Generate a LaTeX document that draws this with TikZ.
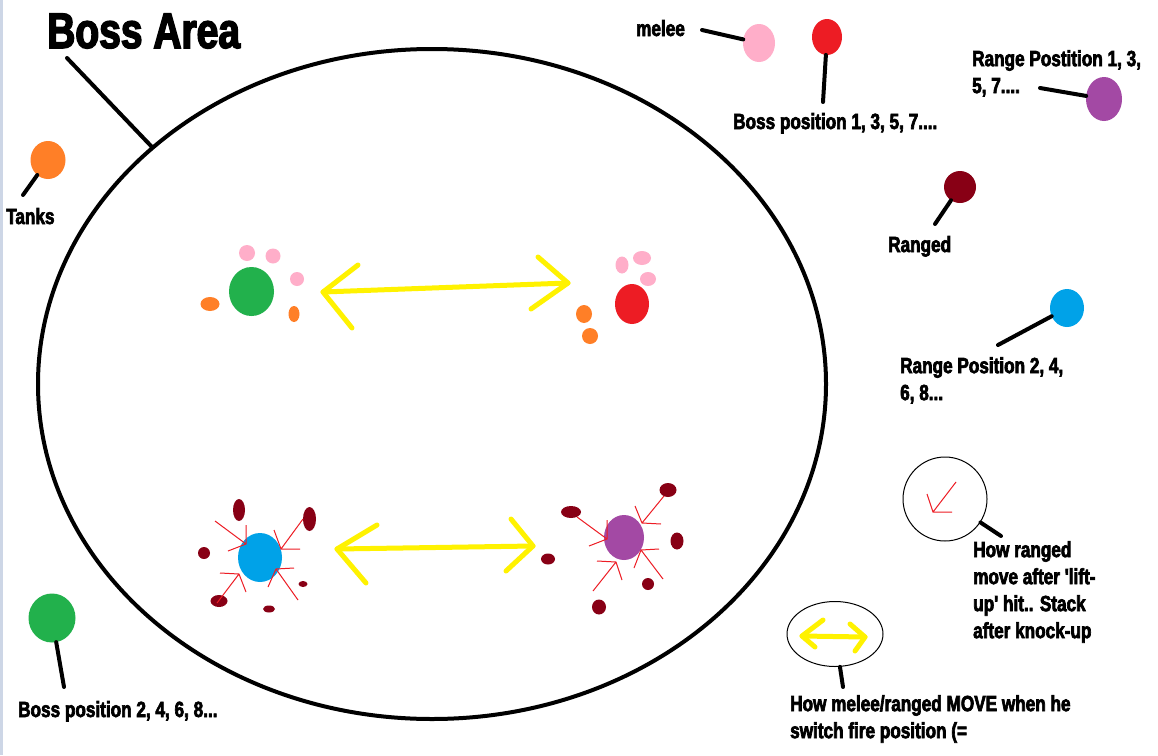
\documentclass[tikz,border=0pt]{standalone}
\usepackage{fontspec}
\setmainfont{Liberation Sans}[FakeStretch=0.78, Ligatures=TeXOff, BoldFont={Liberation Sans Bold}, BoldFeatures={FakeBold=3}]
\usetikzlibrary{shapes.geometric}
\definecolor{pgreen}{RGB}{34,177,76}
\definecolor{pblue}{RGB}{0,162,232}
\definecolor{ppurple}{RGB}{163,73,164}
\definecolor{pred}{RGB}{237,28,36}
\definecolor{pdark}{RGB}{136,0,21}
\definecolor{ppink}{RGB}{255,174,201}
\definecolor{porange}{RGB}{255,127,39}
\definecolor{pyellow}{RGB}{255,242,0}
\definecolor{pedge}{RGB}{205,214,230}
\begin{document}
\begin{tikzpicture}[x=1pt,y=-1pt,
  blob/.style n args={3}{ellipse, inner sep=0pt, outer sep=0pt, fill=#1, minimum width=#2, minimum height=#3},
  ring/.style 2 args={ellipse, draw=black, line width=1pt, inner sep=0pt, minimum width=#1, minimum height=#2},
  lead/.style={line width=4pt, black, line cap=round},
  lbl/.style={anchor=base west, inner sep=0pt, font=\fontsize{22}{27}\selectfont\bfseries, align=left},
  yarrow/.style={line width=5pt, color=pyellow, line cap=round, line join=round},
  rline/.style={line width=1pt, color=pred}]
\useasboundingbox (0,0) rectangle (1158,755);
\fill[white] (0,0) rectangle (1158,755);
\fill[pedge] (0,0) rectangle (2.5,755);

% arena
\node[draw, ellipse, line width=4pt, inner sep=0pt, minimum width=788pt, minimum height=670pt] (arena) at (432,384) {};
\node[anchor=base west, inner sep=0pt, font=\fontsize{50}{50}\selectfont\bfseries] (title) at (47,48) {Boss Area};
\coordinate (titleTail) at (67,58);
\coordinate (arenaHit) at (152,147);
\draw[lead] (titleTail) -- (arenaHit);

% top-left cluster
\node[blob={pgreen}{45pt}{49pt}] (bossA) at (251.5,291.5) {};
\node[blob={ppink}{16pt}{16pt}] (pa1) at (247,253) {};
\node[blob={ppink}{15pt}{15pt}] (pa2) at (273,256) {};
\node[blob={ppink}{14pt}{14pt}] (pa3) at (297,279) {};
\node[blob={porange}{19pt}{14pt}] (oa1) at (210,304) {};
\node[blob={porange}{11pt}{16pt}] (oa2) at (294,314) {};
\draw[yarrow] (323,292) -- (568,283);
\draw[yarrow] (358,265) -- (323,292) -- (352,328);
\draw[yarrow] (538,257) -- (568,283) -- (531,309);

% top-right cluster
\node[blob={pred}{34pt}{40pt}] (bossB) at (632,304) {};
\node[blob={ppink}{13pt}{17pt}] (pb1) at (622,265) {};
\node[blob={ppink}{18pt}{14pt}] (pb2) at (642,258) {};
\node[blob={ppink}{16pt}{14pt}] (pb3) at (648,279) {};
\node[blob={porange}{16pt}{18pt}] (ob1) at (584,314) {};
\node[blob={porange}{16pt}{16pt}] (ob2) at (590,336) {};

% bottom-left cluster
\node[blob={pblue}{44pt}{49pt}] (stackA) at (260,557.5) {};
\node[blob={pdark}{12pt}{22pt}] (da1) at (239,510) {};
\node[blob={pdark}{13pt}{24pt}] (da2) at (309.5,519) {};
\node[blob={pdark}{12pt}{12pt}] (da3) at (204,553) {};
\node[blob={pdark}{17pt}{12pt}] (da4) at (219,601) {};
\node[blob={pdark}{9pt}{6pt}] (da5) at (303,584) {};
\node[blob={pdark}{12pt}{7pt}] (da6) at (269,609) {};
\draw[rline] (215,521) -- (246,544) (246,525) -- (246,544) -- (228,551);
\draw[rline] (303,519) -- (281,549) (274,530) -- (281,549) -- (300,549);
\draw[rline] (217,603) -- (239,574) (220,573) -- (239,574) -- (246,592);
\draw[rline] (298,600) -- (276,569) (294,568) -- (276,569) -- (268,587);
\draw[yarrow] (337,549) -- (533,546);
\draw[yarrow] (377,525) -- (337,549) -- (366,583);
\draw[yarrow] (511,519) -- (533,546) -- (506,571);

% bottom-right cluster
\node[blob={ppurple}{40pt}{45pt}] (stackB) at (624,537.5) {};
\node[blob={pdark}{17pt}{14pt}] (db1) at (668,490) {};
\node[blob={pdark}{20pt}{12pt}] (db2) at (571,512) {};
\node[blob={pdark}{13pt}{17pt}] (db3) at (677,541) {};
\node[blob={pdark}{14pt}{11pt}] (db4) at (548,559) {};
\node[blob={pdark}{12pt}{12pt}] (db5) at (648,584) {};
\node[blob={pdark}{14pt}{15pt}] (db6) at (599,607) {};
\draw[rline] (577,517) -- (607,539) (607,520) -- (607,539) -- (589,546);
\draw[rline] (664,496) -- (642,523) (635,506) -- (642,523) -- (661,524);
\draw[rline] (663,579) -- (641,550) (659,549) -- (641,550) -- (634,568);
\draw[rline] (593,591) -- (616,562) (597,561) -- (616,562) -- (622,580);

% legend: tanks
\node[blob={porange}{35pt}{38pt}] (tankDot) at (48,160) {};
\node[lbl] (tankTxt) at (6,224) {Tanks};
\coordinate (tankEnd) at (23,195);
\draw[lead] (tankEnd) -- (tankDot);

% legend: melee
\node[blob={ppink}{32pt}{38pt}] (meleeDot) at (759,43) {};
\node[lbl] (meleeTxt) at (636,36) {melee};
\coordinate (meleeEnd) at (702,30);
\draw[lead] (meleeEnd) -- (meleeDot);

% legend: boss odd
\node[blob={pred}{30pt}{36pt}] (bossOdd) at (827,37) {};
\node[lbl] (bossOddTxt) at (733,129) {Boss position 1, 3, 5, 7....};
\coordinate (bossOddEnd) at (823,102);
\draw[lead] (bossOddEnd) -- (bossOdd);

% legend: range odd
\node[blob={ppurple}{36pt}{44pt}] (rangeOdd) at (1104,99) {};
\node[lbl, anchor=north west] (rangeOddTxt) at (972,50) {Range Postition 1, 3,\\5, 7....};
\coordinate (rangeOddEnd) at (1040,88);
\draw[lead] (rangeOddEnd) -- (rangeOdd);

% legend: ranged
\node[blob={pdark}{32pt}{32pt}] (rangedDot) at (960,187) {};
\node[lbl] (rangedTxt) at (888,252) {Ranged};
\coordinate (rangedEnd) at (935,224);
\draw[lead] (rangedEnd) -- (rangedDot);

% legend: range even
\node[blob={pblue}{34pt}{38pt}] (rangeEven) at (1067,308) {};
\node[lbl, anchor=north west] (rangeEvenTxt) at (900,357) {Range Position 2, 4,\\6, 8...};
\coordinate (rangeEvenEnd) at (998,345);
\draw[lead] (rangeEvenEnd) -- (rangeEven);

% legend: lift-up
\node[ring={84pt}{84pt}] (liftRing) at (945,499) {};
\draw[rline] (956,482) -- (933,512) (927,494) -- (933,512) -- (952,512);
\node[lbl, anchor=north west] (liftTxt) at (973,541) {How ranged\\move after 'lift-\\up' hit.. Stack\\after knock-up};
\coordinate (liftEnd) at (1001,536);
\draw[lead] (liftEnd) -- (liftRing);

% legend: move
\node[ring={96pt}{65pt}] (moveRing) at (835,634) {};
\draw[yarrow] (802,636) -- (865,637);
\draw[yarrow] (823,620) -- (802,636) -- (815,647);
\draw[yarrow] (850,624) -- (865,637) -- (855,651);
\node[lbl, anchor=north west] (moveTxt) at (790,695) {How melee/ranged MOVE when he\\switch fire position (=};
\coordinate (moveEnd) at (843,687);
\draw[lead] (moveEnd) -- (moveRing);

% legend: boss even
\node[blob={pgreen}{47pt}{49pt}] (bossEven) at (52,618) {};
\node[lbl] (bossEvenTxt) at (18,717) {Boss position 2, 4, 6, 8...};
\coordinate (bossEvenEnd) at (64,687);
\draw[lead] (bossEvenEnd) -- (bossEven);
\end{tikzpicture}
\end{document}
